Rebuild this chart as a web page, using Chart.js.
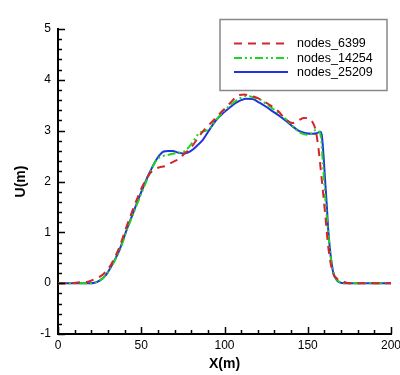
<!DOCTYPE html>
<html>
<head>
<meta charset="utf-8">
<script src="https://cdn.jsdelivr.net/npm/chart.js@4"></script>
<style>
  html, body { margin: 0; padding: 0; background: #fff; overflow: hidden; }
  canvas { display: block; }
</style>
</head>
<body>
<canvas id="chrVelocity" width="400" height="375"></canvas>
<script>
// series: X(m) and U(m)
var x6399 = [0, 8, 13, 18, 22, 27, 31, 34, 37, 41, 45, 49, 52, 55, 58, 61, 64, 67, 70, 73, 76, 80, 85, 89, 93, 97, 101, 105, 108.5, 112, 116, 120, 124, 128, 132, 137, 141, 144, 147.5, 150.5, 153, 154.5, 156.3, 158.4, 160.4, 162.3, 164, 165.5, 167.5, 170, 174.5, 180, 200];
var u6399 = [0, 0, 0.02, 0.03, 0.08, 0.17, 0.32, 0.5, 0.72, 1.1, 1.45, 1.78, 1.99, 2.15, 2.24, 2.28, 2.3, 2.35, 2.4, 2.45, 2.55, 2.67, 2.9, 3.06, 3.19, 3.33, 3.46, 3.6, 3.7, 3.71, 3.68, 3.64, 3.57, 3.49, 3.39, 3.22, 3.15, 3.19, 3.25, 3.24, 3.16, 3.04, 2.69, 2.04, 1.38, 0.72, 0.35, 0.18, 0.09, 0.05, 0, 0, 0];

var x14254 = [0, 10, 20, 25, 29, 33, 37, 41, 45, 49, 53, 57, 60, 63, 67, 71, 74, 77, 81, 85, 89, 92, 96, 100, 105, 109, 113, 118, 122, 126, 130, 134, 138, 142, 146, 149.5, 152, 154.4, 156.5, 157.8, 159, 160.6, 162.4, 164.2, 166.4, 168.5, 171, 180, 200];
var u14254 = [0, 0, 0, 0.05, 0.17, 0.38, 0.64, 1.01, 1.35, 1.68, 2.0, 2.3, 2.45, 2.5, 2.53, 2.56, 2.57, 2.62, 2.78, 2.96, 3.0, 3.08, 3.25, 3.4, 3.54, 3.63, 3.68, 3.65, 3.6, 3.5, 3.41, 3.3, 3.19, 3.05, 2.95, 2.92, 2.94, 3.01, 2.99, 2.9, 2.4, 1.65, 0.95, 0.42, 0.13, 0.04, 0, 0, 0];

var x25209 = [0, 10, 19, 22, 25, 29, 33, 37, 41, 45, 49, 53, 56, 58.5, 61, 63.5, 66, 69, 72, 75, 78, 81, 84, 87, 91, 95, 99, 103, 107, 110, 113, 117, 121, 125, 129, 133, 137, 141, 145, 149, 153, 155.5, 157.4, 158.4, 159.4, 160.4, 161.4, 162.3, 163.4, 164.4, 165.5, 167.4, 169.5, 172, 180, 200];
var u25209 = [0, 0, 0, 0.01, 0.05, 0.17, 0.39, 0.66, 1.03, 1.37, 1.71, 2.03, 2.24, 2.4, 2.52, 2.59, 2.6, 2.6, 2.57, 2.55, 2.57, 2.63, 2.72, 2.82, 3.02, 3.21, 3.34, 3.45, 3.55, 3.6, 3.63, 3.62, 3.55, 3.47, 3.38, 3.29, 3.19, 3.08, 2.99, 2.95, 2.94, 2.95, 2.98, 2.92, 2.55, 2.04, 1.55, 1.05, 0.65, 0.38, 0.18, 0.06, 0.01, 0, 0, 0];

var seriesNames = ['nodes_6399', 'nodes_14254', 'nodes_25209'];
var xTicks = [0, 50, 100, 150, 200];
var yTicks = [-1, 0, 1, 2, 3, 4, 5];

var toPoints = (xs, ys) => xs.map((v, i) => ({x: v, y: ys[i]}));

// inward major / minor tick marks, like the original plot
var innerTicks = {
  id: 'innerTicks',
  afterDraw: (chart) => {
    var ctx = chart.ctx, xs = chart.scales.x, ys = chart.scales.y;
    var a = chart.chartArea;
    ctx.save();
    ctx.strokeStyle = '#000';
    ctx.lineWidth = 1.5;
    ctx.beginPath();
    for (var v = xs.min; v <= xs.max + 1e-6; v += 10) {
      var px = Math.round(xs.getPixelForValue(v)) + 0.5;
      var len = (Math.abs(v % 50) < 1e-6) ? 7 : 4;
      ctx.moveTo(px, a.bottom);
      ctx.lineTo(px, a.bottom - len);
    }
    for (var k = 0; k <= 30; k++) {
      var yv = ys.min + k * 0.2;
      var py = Math.round(ys.getPixelForValue(yv)) + 0.5;
      var ylen = (k % 5 === 0) ? 7 : 4;
      ctx.moveTo(a.left, py);
      ctx.lineTo(a.left + ylen, py);
    }
    ctx.stroke();
    ctx.restore();
  }
};

// framed legend in the top right corner
var boxLegend = {
  id: 'boxLegend',
  afterDraw: (chart) => {
    var ctx = chart.ctx;
    ctx.save();
    ctx.fillStyle = '#fff';
    ctx.fillRect(220, 19.5, 167, 71);
    ctx.strokeStyle = '#888';
    ctx.lineWidth = 1.5;
    ctx.strokeRect(220, 19.5, 167, 71);
    var rows = [43.5, 58, 72];
    chart.data.datasets.forEach((ds, i) => {
      ctx.beginPath();
      ctx.setLineDash(ds.borderDash || []);
      ctx.strokeStyle = ds.borderColor;
      ctx.lineWidth = 2;
      ctx.moveTo(234, rows[i]);
      ctx.lineTo(288, rows[i]);
      ctx.stroke();
      ctx.setLineDash([]);
      ctx.fillStyle = '#000';
      ctx.font = '12.5px "Liberation Sans", Arial, sans-serif';
      ctx.textBaseline = 'middle';
      ctx.textAlign = 'left';
      ctx.fillText(ds.label, 297, rows[i] + 0.5);
    });
    ctx.restore();
  }
};

var tickFont = {family: '"Liberation Sans", Arial, sans-serif', size: 12};
var titleFont = {family: '"Liberation Sans", Arial, sans-serif', size: 14, weight: 'bold'};

new Chart(document.getElementById('chrVelocity').getContext('2d'), {
  type: 'line',
  data: {
    datasets: [{
      label: seriesNames[0],
      data: toPoints(x6399, u6399),
      borderColor: '#d0262c',
      borderDash: [8, 6],
      borderWidth: 2
    }, {
      label: seriesNames[1],
      data: toPoints(x14254, u14254),
      borderColor: '#1ed41e',
      borderDash: [8, 3, 2, 3, 2, 3],
      borderWidth: 2
    }, {
      label: seriesNames[2],
      data: toPoints(x25209, u25209),
      borderColor: '#2233dd',
      borderWidth: 2
    }]
  },
  options: {
    responsive: false,
    animation: false,
    events: [],
    elements: {
      point: {radius: 0},
      line: {cubicInterpolationMode: 'monotone', fill: false}
    },
    layout: {padding: {top: 29, right: 9, left: 0, bottom: 0}},
    plugins: {
      legend: {display: false},
      tooltip: {enabled: false}
    },
    scales: {
      x: {
        type: 'linear',
        min: 0,
        max: 200,
        afterBuildTicks: (s) => { s.ticks = xTicks.map(v => ({value: v})); },
        afterFit: (s) => { s.height = 41; s.paddingLeft = 0; s.paddingRight = 0; },
        grid: {display: false, drawTicks: false},
        border: {display: true, color: '#000', width: 2},
        ticks: {color: '#000', font: tickFont, padding: 4, maxRotation: 0},
        title: {display: true, text: 'X(m)', color: '#000', font: titleFont, padding: {top: 0, bottom: 2}}
      },
      y: {
        type: 'linear',
        min: -1,
        max: 5,
        afterBuildTicks: (s) => { s.ticks = yTicks.map(v => ({value: v})); },
        afterFit: (s) => { s.width = 58; s.paddingTop = 0; s.paddingBottom = 0; },
        grid: {display: false, drawTicks: false},
        border: {display: true, color: '#000', width: 2},
        ticks: {color: '#000', font: tickFont, padding: 7},
        title: {display: true, text: 'U(m)', color: '#000', font: titleFont, padding: {top: 13, bottom: 0}}
      }
    }
  },
  plugins: [innerTicks, boxLegend]
});
</script>
</body>
</html>
